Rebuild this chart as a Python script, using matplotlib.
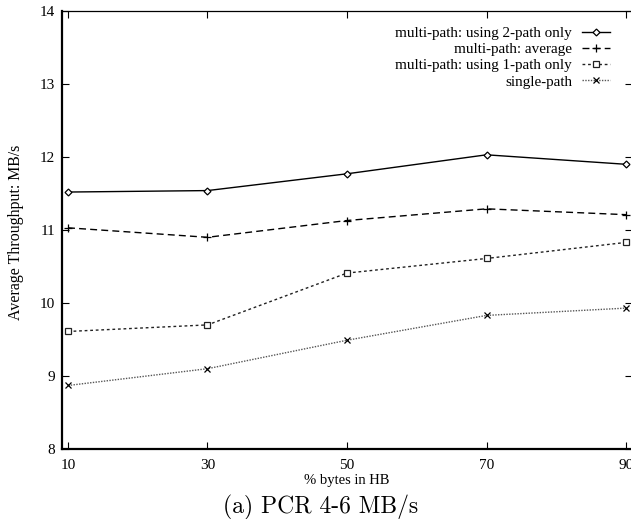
import matplotlib
matplotlib.use("Agg")
import matplotlib.pyplot as plt

# data
pct_hb = [10, 30, 50, 70, 90]
two_path = [11.52, 11.54, 11.77, 12.03, 11.90]
average = [11.03, 10.90, 11.13, 11.29, 11.21]
one_path = [9.61, 9.70, 10.41, 10.61, 10.83]
single_path = [8.87, 9.10, 9.49, 9.83, 9.93]

labels = ["multi-path: using 2-path only", "multi-path: average",
          "multi-path: using 1-path only", "single-path"]

plt.rcParams["font.family"] = ["Liberation Serif", "DejaVu Serif"]

fig = plt.figure(figsize=(6.31, 5.19), dpi=100)
ax = fig.add_axes([62 / 631, 70 / 519, 570 / 631, 438 / 519])

# one line per series, gnuplot-like styles
ax.plot(pct_hb, two_path, color="black", lw=1.0, marker="D", ms=3.5,
        mfc="white", mec="black", mew=0.9, label=labels[0])
ax.plot(pct_hb, average, color="black", lw=1.0, dashes=(5, 3), marker="+",
        ms=5.5, mew=0.9, label=labels[1])
ax.plot(pct_hb, one_path, color="#222222", lw=1.0, dashes=(2, 2), marker="s",
        ms=5, mfc="white", mec="#222222", mew=0.9, label=labels[2])
ax.plot(pct_hb, single_path, color="#555555", lw=1.0, dashes=(1, 1), marker="x",
        ms=5, mec="black", mew=0.9, label=labels[3])

ax.set_xlim(9.14, 90.86)
ax.set_ylim(8, 14)
ax.set_xticks(pct_hb)
ax.set_yticks(range(8, 15))

ax.tick_params(direction="in", length=5, width=0.8, top=True, right=True,
               labelsize=11, pad=5)
ax.tick_params(axis="x", pad=7)
for side in ["left", "bottom"]:
    ax.spines[side].set_linewidth(1.6)
for side in ["top", "right"]:
    ax.spines[side].set_linewidth(0.9)

ax.set_xlabel("% bytes in HB", fontsize=10.5)
ax.xaxis.set_label_coords(0.5, -0.058)
ax.set_ylabel("Average Throughput: MB/s", fontsize=11.4)
ax.yaxis.set_label_coords(-0.067, 0.495)

leg = ax.legend(loc="upper right", bbox_to_anchor=(0.975, 0.982), frameon=False,
                markerfirst=False, fontsize=10.9, handlelength=1.85,
                handletextpad=0.66, labelspacing=0.17, borderpad=0)

fig.text(0.508, 0.023, "(a) PCR 4-6 MB/s", ha="center", va="center",
         fontsize=17, family=["cmr10", "DejaVu Serif"])

fig.savefig("out.png", dpi=100)
